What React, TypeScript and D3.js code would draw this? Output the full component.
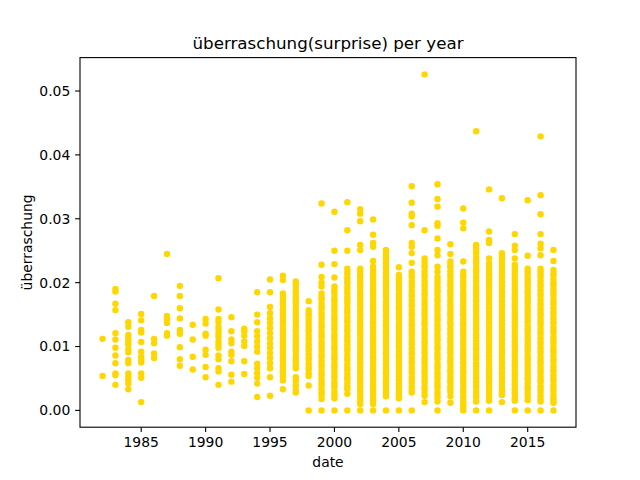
import * as d3 from 'd3'

// surprise values per year
const years = [
  1982, 1983, 1984, 1985, 1986, 1987, 1988, 1989, 1990, 1991, 1992, 1993,
  1994, 1995, 1996, 1997, 1998, 1999, 2000, 2001, 2002, 2003, 2004, 2005,
  2006, 2007, 2008, 2009, 2010, 2011, 2012, 2013, 2014, 2015, 2016, 2017,
]

const s1982 = [0.0112, 0.0054]
const s1983 = [0.019, 0.0186, 0.0167, 0.0157, 0.0121, 0.0111, 0.0098, 0.0086, 0.0074, 0.0058, 0.0055, 0.004]
const s1984 = [0.0138, 0.0131, 0.0118, 0.0113, 0.0108, 0.0103, 0.0096, 0.0091, 0.0079, 0.0074, 0.0058, 0.0053, 0.0048, 0.0042, 0.0033]
const s1985 = [0.0151, 0.0141, 0.0126, 0.0122, 0.0107, 0.0092, 0.0084, 0.0079, 0.0075, 0.0058, 0.0051, 0.0013]
const s1986 = [0.0179, 0.0112, 0.0105, 0.0089, 0.0082]
const s1987 = [0.0245, 0.0148, 0.0143, 0.0137, 0.0121, 0.0117]
const s1988 = [0.0195, 0.0179, 0.016, 0.0144, 0.0126, 0.012, 0.0099, 0.008, 0.007]
const s1989 = [0.0134, 0.0111, 0.0084, 0.0064]
const s1990 = [0.0143, 0.0136, 0.012, 0.0117, 0.0095, 0.0087, 0.0068, 0.0052]
const s1991 = [0.0207, 0.0158, 0.0143, 0.0138, 0.0131, 0.0126, 0.012, 0.0115, 0.0108, 0.0103, 0.0098, 0.0086, 0.008, 0.0066, 0.0061, 0.004]
const s1992 = [0.0146, 0.0124, 0.0111, 0.0105, 0.0092, 0.0087, 0.0077, 0.0056, 0.0045]
const s1993 = [0.0128, 0.0124, 0.0117, 0.0108, 0.0101, 0.0077, 0.0057]
const s1994 = [0.0185, 0.015, 0.0138, 0.0124, 0.0116, 0.0108, 0.01, 0.0092, 0.0073, 0.0066, 0.0058, 0.0051, 0.0042, 0.0021]
const s1995 = [0.0205, 0.0185, 0.0162, 0.0152, 0.0144, 0.0137, 0.0129, 0.0121, 0.0113, 0.0105, 0.0098, 0.009, 0.0082, 0.0074, 0.0066, 0.0052, 0.0023]
const s1996 = [
  0.0211, 0.0204, 0.0183, 0.0178, 0.0173, 0.0168, 0.0164, 0.0158, 0.0153, 0.0149, 0.0143,
  0.0138, 0.0134, 0.0128, 0.0123, 0.0119, 0.0113, 0.0108, 0.0104, 0.0098, 0.0093, 0.0089,
  0.0083, 0.0078, 0.0074, 0.0068, 0.0063, 0.0059, 0.0053, 0.0047, 0.0033,
]
const s1997 = [
  0.0202, 0.0197, 0.0192, 0.0187, 0.0183, 0.0177, 0.0172, 0.0168, 0.0162, 0.0157, 0.0153,
  0.0147, 0.0142, 0.0138, 0.0132, 0.0127, 0.0123, 0.0117, 0.0112, 0.0108, 0.0102, 0.0097,
  0.0093, 0.0087, 0.0082, 0.0078, 0.0073, 0.0068, 0.0066, 0.0052, 0.0046, 0.0039, 0.0032, 0.0028,
]
const s1998 = [
  0.0171, 0.0157, 0.0152, 0.0148, 0.0143, 0.0138, 0.0133, 0.0128, 0.0124, 0.0118, 0.0113,
  0.0109, 0.0103, 0.0098, 0.0094, 0.0088, 0.0083, 0.0079, 0.0073, 0.0068, 0.0064, 0.0058,
  0.0054, 0.0039, 0,
]
const s1999 = [
  0.0324, 0.0228, 0.0209, 0.02, 0.0194, 0.0183, 0.0178, 0.0174, 0.0168, 0.0163, 0.0159,
  0.0153, 0.0148, 0.0144, 0.0138, 0.0133, 0.0129, 0.0123, 0.0118, 0.0114, 0.0108, 0.0103,
  0.0099, 0.0093, 0.0088, 0.0084, 0.0078, 0.0073, 0.0069, 0.0063, 0.0058, 0.0054, 0.0048,
  0.0043, 0.0039, 0.0033, 0.0028, 0.0024, 0.0018, 0,
]
const s2000 = [
  0.0311, 0.025, 0.0229, 0.0208, 0.0194, 0.0189, 0.0185, 0.0179, 0.0174, 0.017, 0.0164,
  0.0159, 0.0155, 0.0149, 0.0144, 0.014, 0.0134, 0.0129, 0.0125, 0.0119, 0.0114, 0.011,
  0.0104, 0.0099, 0.0095, 0.0089, 0.0084, 0.008, 0.0074, 0.0069, 0.0065, 0.0059, 0.0054,
  0.005, 0.0044, 0.0039, 0.0035, 0.0029, 0.0024, 0.0019, 0,
]
const s2001 = [
  0.0326, 0.0282, 0.025, 0.0222, 0.0217, 0.0213, 0.0207, 0.0202, 0.0198, 0.0192, 0.0187,
  0.0183, 0.0177, 0.0172, 0.0168, 0.0162, 0.0157, 0.0153, 0.0147, 0.0142, 0.0138, 0.0132,
  0.0127, 0.0123, 0.0117, 0.0112, 0.0108, 0.0102, 0.0097, 0.0093, 0.0087, 0.0082, 0.0078,
  0.0072, 0.0067, 0.0063, 0.0057, 0.0052, 0.0048, 0.0042, 0.0037, 0.0033, 0.0026, 0,
]
const s2002 = [
  0.0315, 0.0308, 0.0296, 0.0259, 0.0251, 0.0222, 0.0217, 0.0212, 0.0208, 0.0202, 0.0197,
  0.0193, 0.0187, 0.0182, 0.0178, 0.0172, 0.0167, 0.0163, 0.0157, 0.0152, 0.0148, 0.0142,
  0.0137, 0.0133, 0.0127, 0.0122, 0.0118, 0.0112, 0.0107, 0.0103, 0.0097, 0.0092, 0.0088,
  0.0082, 0.0077, 0.0073, 0.0067, 0.0062, 0.0058, 0.0052, 0.0047, 0.0043, 0.0037, 0.0032,
  0.0028, 0.0022, 0.0017, 0.0013, 0.001, 0,
]
const s2003 = [
  0.0299, 0.0275, 0.0262, 0.0256, 0.0234, 0.0225, 0.022, 0.0215, 0.0211, 0.0205, 0.02,
  0.0196, 0.019, 0.0185, 0.0181, 0.0175, 0.017, 0.0166, 0.016, 0.0155, 0.0151, 0.0145,
  0.014, 0.0136, 0.013, 0.0125, 0.0121, 0.0115, 0.011, 0.0106, 0.01, 0.0095, 0.0091,
  0.0085, 0.008, 0.0076, 0.007, 0.0065, 0.0061, 0.0055, 0.005, 0.0046, 0.004, 0.0035,
  0.0031, 0.0025, 0.002, 0.0016, 0.001, 0,
]
const s2004 = [
  0.0251, 0.0246, 0.0241, 0.0237, 0.0231, 0.0226, 0.0222, 0.0216, 0.0211, 0.0207, 0.0201,
  0.0196, 0.0192, 0.0186, 0.0181, 0.0177, 0.0171, 0.0166, 0.0162, 0.0156, 0.0151, 0.0147,
  0.0141, 0.0136, 0.0132, 0.0126, 0.0121, 0.0117, 0.0111, 0.0106, 0.0102, 0.0096, 0.0091,
  0.0087, 0.0081, 0.0076, 0.0072, 0.0066, 0.0061, 0.0057, 0.0051, 0.0046, 0.0042, 0.0036,
  0.0031, 0.0027, 0.0022, 0,
]
const s2005 = [
  0.0224, 0.0212, 0.0207, 0.0203, 0.0197, 0.0192, 0.0188, 0.0182, 0.0177, 0.0173, 0.0167,
  0.0162, 0.0158, 0.0152, 0.0147, 0.0143, 0.0137, 0.0132, 0.0128, 0.0122, 0.0117, 0.0113,
  0.0107, 0.0102, 0.0098, 0.0092, 0.0087, 0.0083, 0.0077, 0.0072, 0.0068, 0.0062, 0.0057,
  0.0053, 0.0047, 0.0042, 0.0038, 0.0032, 0.0027, 0.0023, 0.0019, 0,
]
const s2006 = [
  0.0351, 0.0325, 0.0308, 0.0304, 0.029, 0.0262, 0.0256, 0.0246, 0.0231, 0.0217, 0.0212,
  0.0208, 0.0202, 0.0197, 0.0193, 0.0187, 0.0182, 0.0178, 0.0172, 0.0167, 0.0163, 0.0157,
  0.0152, 0.0148, 0.0142, 0.0137, 0.0133, 0.0127, 0.0122, 0.0118, 0.0112, 0.0107, 0.0103,
  0.0097, 0.0092, 0.0088, 0.0082, 0.0077, 0.0073, 0.0067, 0.0062, 0.0058, 0.0052, 0.0047,
  0.0043, 0.0037, 0.0032, 0.0028, 0,
]
const s2007 = [
  0.0526, 0.0282, 0.0238, 0.0233, 0.0228, 0.0224, 0.0218, 0.0213, 0.0209, 0.0203, 0.0198,
  0.0194, 0.0188, 0.0183, 0.0179, 0.0173, 0.0168, 0.0164, 0.0158, 0.0153, 0.0149, 0.0143,
  0.0138, 0.0134, 0.0128, 0.0123, 0.0119, 0.0113, 0.0108, 0.0104, 0.0098, 0.0093, 0.0089,
  0.0083, 0.0078, 0.0074, 0.0068, 0.0063, 0.0059, 0.0053, 0.0048, 0.0044, 0.0038, 0.0033,
  0.0028, 0.0023, 0.0013,
]
const s2008 = [
  0.0354, 0.0331, 0.0319, 0.0293, 0.0289, 0.0269, 0.0251, 0.0243, 0.0225, 0.0217, 0.0209,
  0.0204, 0.02, 0.0194, 0.0189, 0.0185, 0.0179, 0.0174, 0.017, 0.0164, 0.0159, 0.0155,
  0.0149, 0.0144, 0.014, 0.0134, 0.0129, 0.0125, 0.0119, 0.0114, 0.011, 0.0104, 0.0099,
  0.0095, 0.0089, 0.0084, 0.008, 0.0074, 0.0069, 0.0065, 0.0059, 0.0054, 0.005, 0.0044,
  0.0039, 0.0035, 0.0029, 0.0024, 0.002, 0.0014, 0,
]
const s2009 = [
  0.026, 0.0245, 0.0233, 0.0228, 0.0224, 0.0218, 0.0213, 0.0209, 0.0203, 0.0198, 0.0194,
  0.0188, 0.0183, 0.0179, 0.0173, 0.0168, 0.0164, 0.0158, 0.0153, 0.0149, 0.0143, 0.0138,
  0.0134, 0.0128, 0.0123, 0.0119, 0.0113, 0.0108, 0.0104, 0.0098, 0.0093, 0.0089, 0.0083,
  0.0078, 0.0074, 0.0068, 0.0063, 0.0059, 0.0053, 0.0048, 0.0044, 0.0038, 0.0033, 0.0029,
  0.0022, 0.0012,
]
const s2010 = [
  0.0316, 0.0294, 0.0285, 0.0233, 0.0217, 0.0212, 0.0208, 0.0202, 0.0197, 0.0193, 0.0187,
  0.0182, 0.0178, 0.0172, 0.0167, 0.0163, 0.0157, 0.0152, 0.0148, 0.0142, 0.0137, 0.0133,
  0.0127, 0.0122, 0.0118, 0.0112, 0.0107, 0.0103, 0.0097, 0.0092, 0.0088, 0.0082, 0.0077,
  0.0073, 0.0067, 0.0062, 0.0058, 0.0052, 0.0047, 0.0043, 0.0037, 0.0032, 0.0028, 0.0022,
  0.0017, 0.0013, 0.0008, 0.0004, 0,
]
const s2011 = [
  0.0437, 0.0259, 0.0254, 0.0249, 0.0245, 0.0239, 0.0234, 0.023, 0.0224, 0.0219, 0.0215,
  0.0209, 0.0204, 0.02, 0.0194, 0.0189, 0.0185, 0.0179, 0.0174, 0.017, 0.0164, 0.0159,
  0.0155, 0.0149, 0.0144, 0.014, 0.0134, 0.0129, 0.0125, 0.0119, 0.0114, 0.011, 0.0104,
  0.0099, 0.0095, 0.0089, 0.0084, 0.008, 0.0074, 0.0069, 0.0065, 0.0059, 0.0054, 0.005,
  0.0044, 0.0039, 0.0035, 0.0029, 0.0024, 0.002, 0.0014, 0,
]
const s2012 = [
  0.0346, 0.028, 0.0267, 0.0262, 0.0238, 0.023, 0.0226, 0.022, 0.0215, 0.0211, 0.0205,
  0.02, 0.0196, 0.019, 0.0185, 0.0181, 0.0175, 0.017, 0.0166, 0.016, 0.0155, 0.0151,
  0.0145, 0.014, 0.0136, 0.013, 0.0125, 0.0121, 0.0115, 0.011, 0.0106, 0.01, 0.0095,
  0.0091, 0.0085, 0.008, 0.0076, 0.007, 0.0065, 0.0061, 0.0055, 0.005, 0.0046, 0.004,
  0.0035, 0.0031, 0.0025, 0.002, 0.0015, 0,
]
const s2013 = [
  0.0332, 0.0246, 0.0241, 0.0237, 0.0231, 0.0226, 0.0222, 0.0216, 0.0211, 0.0207, 0.0201,
  0.0196, 0.0192, 0.0186, 0.0181, 0.0177, 0.0171, 0.0166, 0.0162, 0.0156, 0.0151, 0.0147,
  0.0141, 0.0136, 0.0132, 0.0126, 0.0121, 0.0117, 0.0111, 0.0106, 0.0102, 0.0096, 0.0091,
  0.0087, 0.0081, 0.0076, 0.0072, 0.0066, 0.0061, 0.0057, 0.0051, 0.0046, 0.0042, 0.0036,
  0.0031, 0.0027, 0.0024, 0.0013,
]
const s2014 = [
  0.0276, 0.0258, 0.0251, 0.0238, 0.0228, 0.0223, 0.0219, 0.0213, 0.0208, 0.0204, 0.0198,
  0.0193, 0.0189, 0.0183, 0.0178, 0.0174, 0.0168, 0.0163, 0.0159, 0.0153, 0.0148, 0.0144,
  0.0138, 0.0133, 0.0129, 0.0123, 0.0118, 0.0114, 0.0108, 0.0103, 0.0099, 0.0093, 0.0088,
  0.0084, 0.0078, 0.0073, 0.0069, 0.0063, 0.0058, 0.0054, 0.0048, 0.0043, 0.0039, 0.0033,
  0.0028, 0.0024, 0.0019, 0.0015, 0,
]
const s2015 = [
  0.0329, 0.0242, 0.0222, 0.0217, 0.0213, 0.0207, 0.0202, 0.0198, 0.0192, 0.0187, 0.0183,
  0.0177, 0.0172, 0.0168, 0.0162, 0.0157, 0.0153, 0.0147, 0.0142, 0.0138, 0.0132, 0.0127,
  0.0123, 0.0117, 0.0112, 0.0108, 0.0102, 0.0097, 0.0093, 0.0087, 0.0082, 0.0078, 0.0072,
  0.0067, 0.0063, 0.0057, 0.0052, 0.0048, 0.0042, 0.0037, 0.0033, 0.0027, 0.0022, 0.0016, 0,
]
const s2016 = [
  0.0429, 0.0337, 0.0307, 0.0276, 0.0261, 0.0254, 0.0243, 0.0222, 0.0218, 0.0213, 0.0209,
  0.0203, 0.0198, 0.0194, 0.0188, 0.0183, 0.0179, 0.0173, 0.0168, 0.0164, 0.0158, 0.0153,
  0.0149, 0.0143, 0.0138, 0.0134, 0.0128, 0.0123, 0.0119, 0.0113, 0.0108, 0.0104, 0.0098,
  0.0093, 0.0089, 0.0083, 0.0078, 0.0074, 0.0068, 0.0063, 0.0059, 0.0053, 0.0048, 0.0044,
  0.0038, 0.0033, 0.0029, 0.0023, 0.0018, 0.0014, 0,
]
const s2017 = [
  0.0251, 0.0234, 0.022, 0.0215, 0.0211, 0.0205, 0.02, 0.0196, 0.019, 0.0185, 0.0181,
  0.0175, 0.017, 0.0166, 0.016, 0.0155, 0.0151, 0.0145, 0.014, 0.0136, 0.013, 0.0125,
  0.0121, 0.0115, 0.011, 0.0106, 0.01, 0.0095, 0.0091, 0.0085, 0.008, 0.0076, 0.007,
  0.0065, 0.0061, 0.0055, 0.005, 0.0046, 0.004, 0.0035, 0.0031, 0.0025, 0.002, 0.0016,
  0.0012, 0,
]

const valuesByYear = [
  s1982, s1983, s1984, s1985, s1986, s1987, s1988, s1989, s1990, s1991, s1992, s1993,
  s1994, s1995, s1996, s1997, s1998, s1999, s2000, s2001, s2002, s2003, s2004, s2005,
  s2006, s2007, s2008, s2009, s2010, s2011, s2012, s2013, s2014, s2015, s2016, s2017,
]

const xTicks = [1985, 1990, 1995, 2000, 2005, 2010, 2015]
const yTicks = [0, 0.01, 0.02, 0.03, 0.04, 0.05]

const title = 'überraschung(surprise) per year'
const xLabel = 'date'
const yLabel = 'überraschung'

export default function App() {
  const width = 640
  const height = 480
  const margin = { top: 57.6, right: 64, bottom: 52.8, left: 80 }
  const font = 'DejaVu Sans, sans-serif'

  const points = years.flatMap((yr, i) => valuesByYear[i].map(v => ({ year: yr, value: v })))

  // matplotlib-style 5% padding on both axes
  const [x0, x1] = d3.extent(points, d => d.year) as [number, number]
  const [y0, y1] = d3.extent(points, d => d.value) as [number, number]
  const px = (x1 - x0) * 0.05
  const py = (y1 - y0) * 0.05

  const xScale = d3.scaleLinear()
    .domain([x0 - px, x1 + px])
    .range([margin.left, width - margin.right])
  const yScale = d3.scaleLinear()
    .domain([y0 - py, y1 + py])
    .range([height - margin.bottom, margin.top])

  const plotBottom = height - margin.bottom
  const plotRight = width - margin.right
  const tickLen = 4.86

  return (
    <svg
      width={width}
      height={height}
      style={{ position: 'absolute', left: 0, top: 0, background: '#fff' }}
      fontFamily={font}
    >
      <rect x={0} y={0} width={width} height={height} fill="#fff" />

      {points.map((d, i) => (
        <circle
          key={i}
          cx={xScale(d.year)}
          cy={yScale(d.value)}
          r={3.2}
          fill="#FFD700"
        />
      ))}

      <rect
        x={margin.left}
        y={margin.top}
        width={plotRight - margin.left}
        height={plotBottom - margin.top}
        fill="none"
        stroke="#000"
        strokeWidth={1.1}
      />

      {xTicks.map(t => (
        <g key={t} transform={`translate(${xScale(t)},${plotBottom})`}>
          <line y2={tickLen} stroke="#000" strokeWidth={1.1} />
          <text y={tickLen + 4.86 + 10.5} textAnchor="middle" fontSize={13.9} fill="#000">
            {t}
          </text>
        </g>
      ))}

      {yTicks.map(t => (
        <g key={t} transform={`translate(${margin.left},${yScale(t)})`}>
          <line x2={-tickLen} stroke="#000" strokeWidth={1.1} />
          <text x={-tickLen - 4.86} dy="0.35em" textAnchor="end" fontSize={13.9} fill="#000">
            {d3.format('.2f')(t)}
          </text>
        </g>
      ))}

      <text
        x={(margin.left + plotRight) / 2}
        y={467}
        textAnchor="middle"
        fontSize={13.9}
        fill="#000"
      >
        {xLabel}
      </text>

      <text
        transform={`translate(32,${(margin.top + plotBottom) / 2}) rotate(-90)`}
        textAnchor="middle"
        fontSize={13.9}
        fill="#000"
      >
        {yLabel}
      </text>

      <text
        x={(margin.left + plotRight) / 2}
        y={49}
        textAnchor="middle"
        fontSize={16.7}
        fill="#000"
      >
        {title}
      </text>
    </svg>
  )
}
